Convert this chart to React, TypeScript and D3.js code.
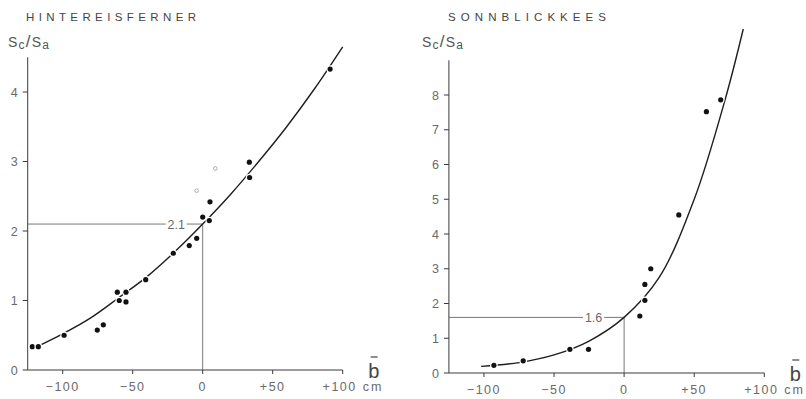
import React, { useRef, useEffect } from "react";
import * as d3 from "d3";

// b (cm) vs Sc/Sa
const hintPoints: [number, number][] = [
  [-121.7, 0.335], [-117.4, 0.335], [-99, 0.5], [-75.3, 0.575], [-71, 0.65],
  [-61, 1.12], [-59.6, 1.0], [-54.8, 1.12], [-54.8, 0.98], [-40.7, 1.3],
  [-21, 1.68], [-9.6, 1.79], [-4.3, 1.895], [0, 2.2], [4.7, 2.15],
  [5.2, 2.42], [33.3, 2.99], [33.5, 2.77], [91, 4.33],
];
const hintOpen: [number, number][] = [[9, 2.9], [-4.3, 2.58]];
const hintCurve: [number, number][] = [
  [-120, 0.32], [-100, 0.52], [-80, 0.75], [-60, 1.04], [-40, 1.34], [-20, 1.7],
  [0, 2.1], [20, 2.53], [40, 3.0], [60, 3.5], [80, 4.05], [100, 4.65],
];

const sonnPoints: [number, number][] = [
  [-92.9, 0.22], [-72, 0.35], [-38.7, 0.68], [-25.4, 0.68], [11.2, 1.64],
  [14.8, 2.09], [14.8, 2.55], [19, 3.0], [39, 4.55], [58.7, 7.52], [68.9, 7.86],
];
const sonnCurve: [number, number][] = [
  [-102, 0.19], [-75, 0.3], [-50, 0.52], [-25, 0.92], [0, 1.6], [25, 2.75],
  [50, 5.0], [72, 7.86], [85, 9.9],
];

const xTicks = [-100, -50, 0, 50, 100];
const xTickLabels = ["\u2212100", "\u221250", "0", "+50", "+100"];
const hintYTicks = [0, 1, 2, 3, 4];
const sonnYTicks = [0, 1, 2, 3, 4, 5, 6, 7, 8];

const FONT = "'Liberation Sans', Arial, sans-serif";

function drawPanel(svg, opts) {
  const { title, titleX, titleLen, labelX, x0, x1, yBase, yTop, yMax, yTicks,
    points, open, curve, refValue, refLabel, gapL, gapR } = opts;
  const x = d3.scaleLinear().domain([-125, 100]).range([x0, x1]);
  const y = d3.scaleLinear().domain([0, yMax]).range([yBase, yTop]);
  const g = svg.append("g");
  const ink = "#3a3a3a";
  const txt = "#6a6a6a";

  // title + y label
  g.append("text").attr("x", titleX).attr("y", 21).attr("font-family", FONT)
    .attr("font-size", 11.5).attr("fill", "#444").attr("textLength", titleLen)
    .attr("lengthAdjust", "spacing").text(title);
  const yl = g.append("text").attr("x", labelX).attr("y", 47)
    .attr("font-family", FONT).attr("font-size", 14).attr("fill", "#555")
    .attr("letter-spacing", 1.2);
  yl.append("tspan").text("S");
  yl.append("tspan").attr("font-size", 12).attr("dy", 1.5).text("c");
  yl.append("tspan").attr("dy", -1.5).attr("font-size", 17).text("/");
  yl.append("tspan").text("S");
  yl.append("tspan").attr("font-size", 12).attr("dy", 1.5).text("a");

  // axes
  g.append("line").attr("x1", x(-125)).attr("x2", x(-125)).attr("y1", y(0)).attr("y2", y(yMax))
    .attr("stroke", ink).attr("stroke-width", 1);
  g.append("line").attr("x1", x(-125)).attr("x2", x(100)).attr("y1", y(0)).attr("y2", y(0))
    .attr("stroke", ink).attr("stroke-width", 1);

  yTicks.forEach(t => {
    g.append("line").attr("x1", x(-125) - 5).attr("x2", x(-125)).attr("y1", y(t)).attr("y2", y(t))
      .attr("stroke", ink);
    g.append("text").attr("x", x(-125) - 10).attr("y", y(t) + 4.5).attr("text-anchor", "end")
      .attr("font-family", FONT).attr("font-size", 12.5).attr("fill", txt).text(t);
  });
  xTicks.forEach((t, i) => {
    g.append("line").attr("x1", x(t)).attr("x2", x(t)).attr("y1", y(0)).attr("y2", y(0) + 4)
      .attr("stroke", ink);
    g.append("text").attr("x", x(t) - (t === 100 ? 3 : 0)).attr("y", y(0) + 21).attr("text-anchor", "middle")
      .attr("font-family", FONT).attr("font-size", 12.5).attr("fill", txt)
      .attr("letter-spacing", 1.5).text(xTickLabels[i]);
  });
  g.append("text").attr("x", x(100) + 20).attr("y", y(0) + 21)
    .attr("font-family", FONT).attr("font-size", 12.5).attr("fill", txt)
    .attr("letter-spacing", 2).text("cm");
  // b-bar
  g.append("text").attr("x", x(100) + 31).attr("y", y(0) + 8).attr("text-anchor", "middle")
    .attr("font-family", FONT).attr("font-size", 20).attr("fill", "#444").text("b");
  g.append("line").attr("x1", x(100) + 28).attr("x2", x(100) + 35)
    .attr("y1", y(0) - 13).attr("y2", y(0) - 13).attr("stroke", "#444").attr("stroke-width", 1.2);

  // reference lines
  const ry = y(refValue);
  g.append("line").attr("x1", x(-125)).attr("x2", x(0) - gapL).attr("y1", ry).attr("y2", ry)
    .attr("stroke", "#555").attr("stroke-width", 0.8);
  g.append("line").attr("x1", x(0) - gapR).attr("x2", x(0)).attr("y1", ry).attr("y2", ry)
    .attr("stroke", "#555").attr("stroke-width", 0.8);
  g.append("line").attr("x1", x(0)).attr("x2", x(0)).attr("y1", ry).attr("y2", y(0))
    .attr("stroke", "#555").attr("stroke-width", 0.8);
  g.append("text").attr("x", (x(0) - gapL + x(0) - gapR) / 2).attr("y", ry + 4.5)
    .attr("text-anchor", "middle").attr("font-family", FONT).attr("font-size", 12.5)
    .attr("fill", txt).text(refLabel);

  // fitted curve
  const line = d3.line<[number, number]>().x(d => x(d[0])).y(d => y(d[1])).curve(d3.curveCatmullRom);
  g.append("path").attr("d", line(curve)).attr("fill", "none").attr("stroke", "#1e1e1e")
    .attr("stroke-width", 1.4);

  // points (white halo makes the gaps in the curve)
  g.selectAll(".pt").data(points).enter().append("circle")
    .attr("cx", d => x(d[0])).attr("cy", d => y(d[1])).attr("r", 2.6)
    .attr("fill", "#111").attr("stroke", "#fff").attr("stroke-width", 2.5)
    .attr("paint-order", "stroke");
  g.selectAll(".op").data(open).enter().append("circle")
    .attr("cx", d => x(d[0])).attr("cy", d => y(d[1])).attr("r", 1.8)
    .attr("fill", "none").attr("stroke", "#999").attr("stroke-width", 0.8);
}

const App = () => {
  const ref = useRef(null);

  useEffect(() => {
    const svg = d3.select(ref.current);
    svg.selectAll("*").remove();
    svg.append("rect").attr("width", 806).attr("height", 399).attr("fill", "#fff");

    drawPanel(svg, {
      title: "HINTEREISFERNER", titleX: 26, titleLen: 170, labelX: 8,
      x0: 27.7, x1: 342.7, yBase: 370, yTop: 370 - 4.5 * 69.5, yMax: 4.5, yTicks: hintYTicks,
      points: hintPoints, open: hintOpen, curve: hintCurve,
      refValue: 2.1, refLabel: "2.1", gapL: 37, gapR: 16,
    });
    drawPanel(svg, {
      title: "SONNBLICKKEES", titleX: 448, titleLen: 158, labelX: 422,
      x0: 448.9, x1: 764.3, yBase: 373, yTop: 373 - 9 * 34.75, yMax: 9, yTicks: sonnYTicks,
      points: sonnPoints, open: [], curve: sonnCurve,
      refValue: 1.6, refLabel: "1.6", gapL: 41, gapR: 20,
    });
  }, []);

  return (
    <svg ref={ref} width={806} height={399}
      style={{ position: "absolute", left: 0, top: 0 }}></svg>
  );
};

export default App;
